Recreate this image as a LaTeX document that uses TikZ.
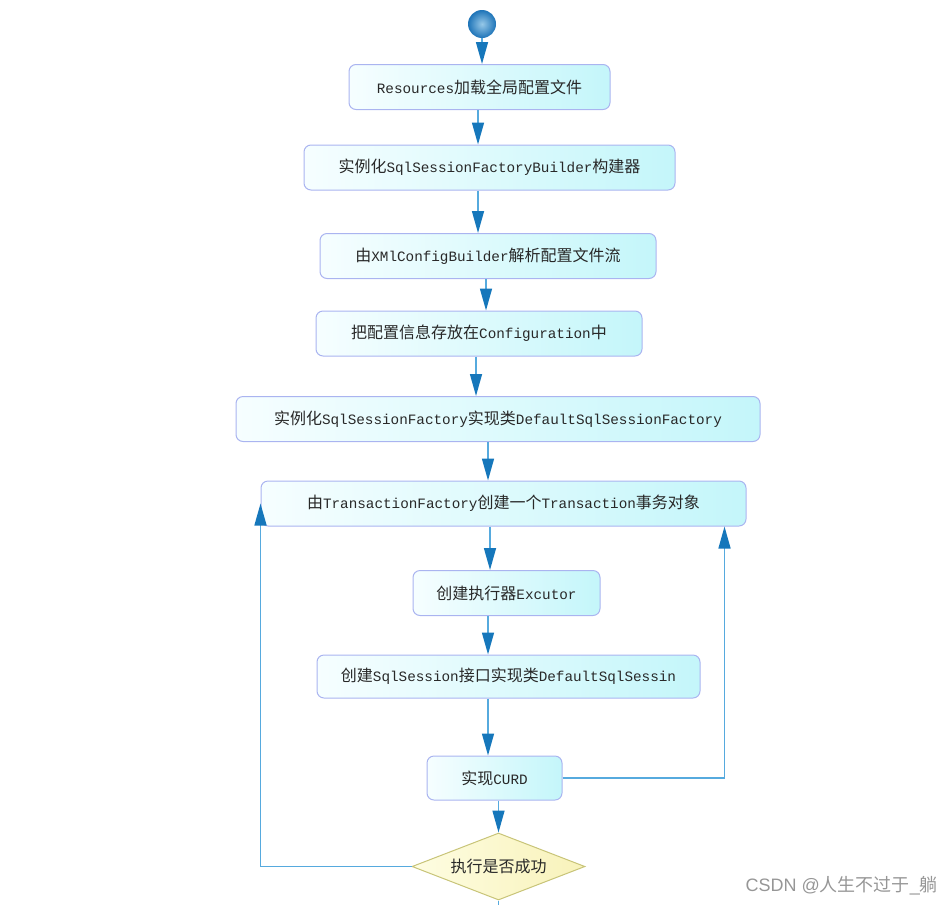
\documentclass[tikz,border=0pt]{standalone}
\usepackage{fontspec}
\setmonofont{Liberation Mono}
\newfontfamily\cjk{Noto Sans CJK SC}
\newfontfamily\marklatin{Liberation Sans}
\usetikzlibrary{arrows.meta, shapes.geometric}

\definecolor{boxline}{RGB}{170,180,240}
\definecolor{boxleft}{RGB}{246,254,255}
\definecolor{boxright}{RGB}{196,246,250}
\definecolor{flowline}{RGB}{86,170,222}
\definecolor{flowtip}{RGB}{22,119,187}
\definecolor{diafill}{RGB}{254,253,226}
\definecolor{diaright}{RGB}{248,242,186}
\definecolor{dialine}{RGB}{200,196,120}
\definecolor{ballin}{RGB}{150,200,232}
\definecolor{ballout}{RGB}{30,116,184}
\definecolor{txt}{RGB}{40,40,40}
\definecolor{markgray}{RGB}{150,150,150}

\newcommand{\zh}[1]{{\cjk\fontsize{16}{16}\selectfont #1}}

\tikzset{
  stepbox/.style={draw=boxline, line width=1pt, rounded corners=7pt,
    left color=boxleft, right color=boxright, text=txt,
    font=\ttfamily\fontsize{14.3}{16}\selectfont,
    minimum height=45pt, inner sep=0pt},
  flow/.style={draw=flowline, line width=1.5pt,
    -{Triangle[length=22pt,width=12pt,color=flowtip]}},
  back/.style={draw=flowline, line width=1.5pt},
}

\begin{document}
\begin{tikzpicture}[x=1pt,y=-1pt]
\useasboundingbox (0,0) rectangle (952,905);

% start
\node[circle, minimum size=28pt, inner sep=0pt, inner color=ballin, outer color=ballout] (start) at (482,24) {};

% steps
\node[stepbox, minimum width=261pt] (res) at (479.5,87) {Resources\zh{加载全局配置文件}};
\node[stepbox, minimum width=371pt] (bld) at (489.5,167.5) {\zh{实例化}SqlSessionFactoryBuilder\zh{构建器}};
\node[stepbox, minimum width=336pt] (xml) at (488,256) {\zh{由}XMlConfigBuilder\zh{解析配置文件流}};
\node[stepbox, minimum width=326pt] (cfg) at (479,333.5) {\zh{把配置信息存放在}Configuration\zh{中}};
\node[stepbox, minimum width=524pt] (fac) at (498,419) {\zh{实例化}SqlSessionFactory\zh{实现类}DefaultSqlSessionFactory};
\node[stepbox, minimum width=485pt] (tx) at (503.5,503.5) {\zh{由}TransactionFactory\zh{创建一个}Transaction\zh{事务对象}};
\node[stepbox, minimum width=187pt] (exe) at (506.5,593) {\zh{创建执行器}Excutor};
\node[stepbox, minimum width=383pt, minimum height=43pt] (ses) at (508.5,676.5) {\zh{创建}SqlSession\zh{接口实现类}DefaultSqlSessin};
\node[stepbox, minimum width=135pt, minimum height=44pt] (curd) at (494.5,778) {\zh{实现}CURD};

% decision
\node[diamond, aspect=2.6, draw=dialine, line width=1pt, left color=diafill, right color=diaright,
  minimum width=173pt, minimum height=67pt, inner sep=0pt, text=txt] (dia) at (498.5,866.5) {\zh{执行是否成功}};
\coordinate (out) at (498.5,905);

% arrows
\draw[flow] (start.south) -- (start.south |- res.north);
\draw[flow] ([xshift=-1.5pt]res.south) -- ([xshift=-1.5pt]res.south |- bld.north);
\draw[flow] ([xshift=-11.5pt]bld.south) -- ([xshift=-11.5pt]bld.south |- xml.north);
\draw[flow] ([xshift=-2pt]xml.south) -- ([xshift=-2pt]xml.south |- cfg.north);
\draw[flow] ([xshift=-3pt]cfg.south) -- ([xshift=-3pt]cfg.south |- fac.north);
\draw[flow] ([xshift=-10pt]fac.south) -- ([xshift=-10pt]fac.south |- tx.north);
\draw[flow] ([xshift=-13.5pt]tx.south) -- ([xshift=-13.5pt]tx.south |- exe.north);
\draw[flow] ([xshift=-18.5pt]exe.south) -- ([xshift=-18.5pt]exe.south |- ses.north);
\draw[flow] ([xshift=-20.5pt]ses.south) -- ([xshift=-20.5pt]ses.south |- curd.north);
\draw[flow] (curd.south -| dia.north) -- (dia.north);
\draw[back] (dia.south) -- (out);

% loops back
\draw[flow] (curd.east) -| ([xshift=-22pt]tx.south east);
\draw[flow] (dia.west) -| (tx.west);

% watermark
\node[anchor=east, inner sep=0pt, text=markgray, font=\marklatin\fontsize{18}{18}\selectfont] (mark) at (938,886) {CSDN @{\cjk 人生不过于}\_{\cjk 躺}};
\end{tikzpicture}
\end{document}
